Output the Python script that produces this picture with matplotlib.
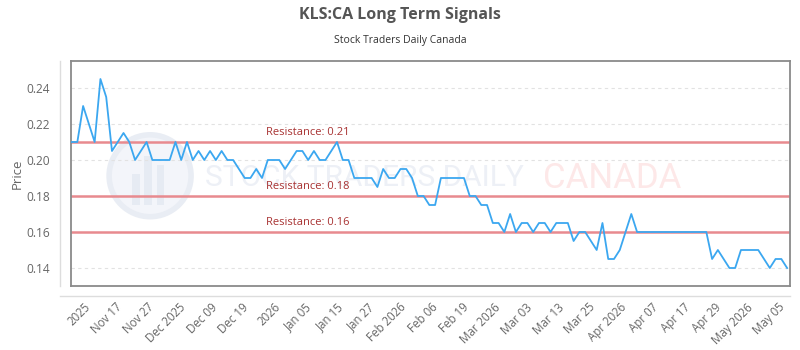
import numpy as np
import matplotlib.pyplot as plt
from matplotlib.lines import Line2D
from matplotlib.patches import Ellipse, Rectangle

plt.rcParams['font.family'] = ['Open Sans', 'DejaVu Sans']

# closing prices, one per session
prices = [
    0.21, 0.21, 0.23, 0.22, 0.21, 0.245, 0.235, 0.205, 0.21, 0.215,
    0.21, 0.20, 0.205, 0.21, 0.20, 0.20, 0.20, 0.20, 0.21, 0.20,
    0.21, 0.20, 0.205, 0.20, 0.205, 0.20, 0.205, 0.20, 0.20, 0.195,
    0.19, 0.19, 0.195, 0.19, 0.20, 0.20, 0.20, 0.195, 0.20, 0.205,
    0.205, 0.20, 0.205, 0.20, 0.20, 0.205, 0.21, 0.20, 0.20, 0.19,
    0.19, 0.19, 0.19, 0.185, 0.195, 0.19, 0.19, 0.195, 0.195, 0.19,
    0.18, 0.18, 0.175, 0.175, 0.19, 0.19, 0.19, 0.19, 0.19, 0.18,
    0.18, 0.175, 0.175, 0.165, 0.165, 0.16, 0.17, 0.16, 0.165, 0.165,
    0.16, 0.165, 0.165, 0.16, 0.165, 0.165, 0.165, 0.155, 0.16, 0.16,
    0.155, 0.15, 0.165, 0.145, 0.145, 0.15, 0.16, 0.17, 0.16, 0.16,
    0.16, 0.16, 0.16, 0.16, 0.16, 0.16, 0.16, 0.16, 0.16, 0.16,
    0.16, 0.145, 0.15, 0.145, 0.14, 0.14, 0.15, 0.15, 0.15, 0.15,
    0.145, 0.14, 0.145, 0.145, 0.14,
]

resistance = [0.21, 0.18, 0.16]

tick_labels = ["2025", "Nov 17", "Nov 27", "Dec 2025", "Dec 09", "Dec 19",
               "2026", "Jan 05", "Jan 15", "Jan 27", "Feb 2026", "Feb 06",
               "Feb 19", "Mar 2026", "Mar 03", "Mar 13", "Mar 25", "Apr 2026",
               "Apr 07", "Apr 17", "Apr 29", "May 2026", "May 05"]

yticks = [0.14, 0.16, 0.18, 0.20, 0.22, 0.24]

fig = plt.figure(figsize=(8, 3.5), dpi=100)
ax = fig.add_axes([71 / 800, 64 / 350, 719 / 800, 225 / 350])

x = np.arange(len(prices))

# faint watermark: round logo + text
ax.add_patch(Ellipse((0.11, 0.49), 0.114, 0.364, transform=ax.transAxes,
                     facecolor='#f3f5fa', edgecolor='#e9edf4', lw=4, zorder=0))
for bx, bh in [(0.085, 0.14), (0.102, 0.22), (0.119, 0.18)]:
    ax.add_patch(Rectangle((bx, 0.36), 0.011, bh, transform=ax.transAxes,
                           facecolor='#e6ebf3', edgecolor='none', zorder=0))
ax.text(0.186, 0.48, "STOCK TRADERS DAILY", transform=ax.transAxes,
        fontsize=21.5, color='#edf0f6', ha='left', va='center',
        family=['Roboto', 'DejaVu Sans'], zorder=0)
ax.text(0.657, 0.48, "CANADA", transform=ax.transAxes,
        fontsize=25, color='#fde8e8', ha='left', va='center',
        family=['Roboto', 'DejaVu Sans'], zorder=0)

for r in resistance:
    ax.axhline(r, color='#e88a8f', lw=1.8, zorder=2)
    ax.text(0.271, r + 0.002, f"Resistance: {r:.2f}", transform=ax.get_yaxis_transform(),
            color='#a83232', fontsize=8, ha='left', va='bottom', zorder=3)

ax.plot(x, prices, color='#3ba7f0', lw=1.3, zorder=4)

ax.set_xlim(-0.1, 124.5)
ax.set_ylim(0.13, 0.255)
ax.set_yticks(yticks)
ax.set_yticklabels([f"{v:.2f}" for v in yticks])
ax.grid(axis='y', color='#e2e2e2', linestyle=(0, (3, 3)), lw=0.8)
ax.set_axisbelow(True)

ax.set_xticks(np.linspace(3.0, 123.2, len(tick_labels)))
ax.set_xticklabels(tick_labels, rotation=45, ha='right', va='center',
                   rotation_mode='anchor')
ax.tick_params(axis='x', length=0, pad=14, labelsize=8.3, labelcolor='#666666')
ax.tick_params(axis='y', length=0, pad=15, labelsize=8.6, labelcolor='#666666')
for s in ax.spines.values():
    s.set_color('#8a8a8a')
    s.set_linewidth(1.3)

ax.set_ylabel("Price", fontsize=9.5, color='#666666', labelpad=2)

# outer axis borders
fig.add_artist(Line2D([60 / 800, 60 / 800], [64 / 350, 289 / 350], color='#dddddd', lw=1))
fig.add_artist(Line2D([60 / 800, 790 / 800], [54 / 350, 54 / 350], color='#dddddd', lw=1))

fig.text(0.5, 1 - 15 / 350, "KLS:CA Long Term Signals", ha='center', va='center',
         fontsize=11.5, fontweight='bold', color='#555555')
fig.text(0.5, 1 - 40 / 350, "Stock Traders Daily Canada", ha='center', va='center',
         fontsize=7.5, color='#333333')

fig.savefig("out.png", dpi=100)
